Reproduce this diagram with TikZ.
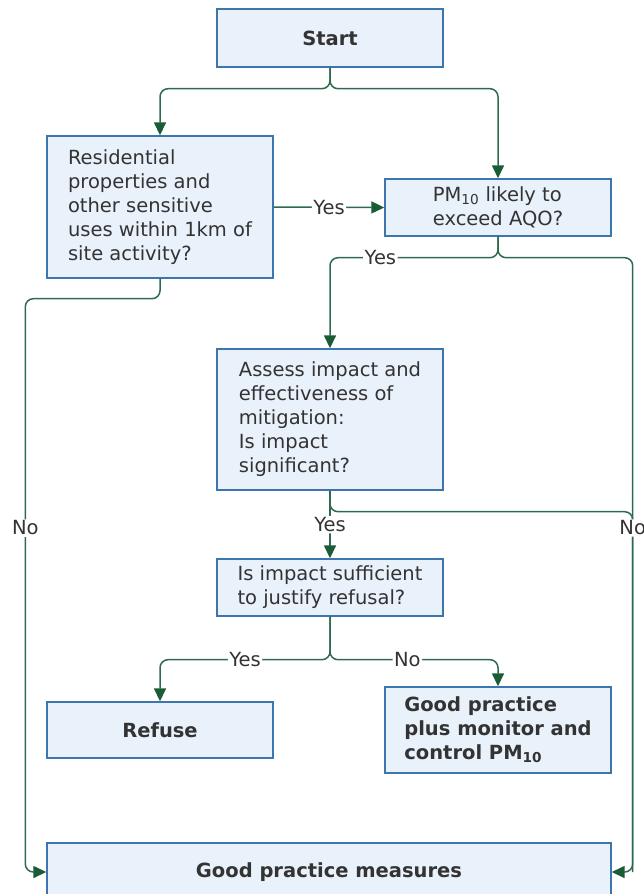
\documentclass[tikz,border=0pt]{standalone}
\usepackage{fontspec}
\setmainfont{DejaVu Sans}
\usetikzlibrary{arrows.meta}
\definecolor{boxfill}{HTML}{E9F1FB}
\definecolor{boxline}{HTML}{3D76AE}
\definecolor{link}{HTML}{2E6B4E}
\definecolor{tip}{HTML}{1A5C36}
\definecolor{txt}{HTML}{333333}
\tikzset{
  box/.style={draw=boxline, fill=boxfill, line width=1.4pt, text=txt, inner sep=0pt,
    minimum width=226pt, align=left, font=\fontsize{19.5}{24}\selectfont},
  boldbox/.style={box, font=\fontsize{19.5}{24}\selectfont\bfseries},
  lbl/.style={fill=white, inner sep=1.5pt, text=txt, font=\fontsize{19.5}{24}\selectfont},
  conn/.style={draw=link, line width=1.5pt, rounded corners=8pt},
  arr/.style={conn, -{Triangle[length=13pt,width=12pt,color=tip]}}
}
\begin{document}
\begin{tikzpicture}[x=1pt,y=-1pt]
    \useasboundingbox (0,0) rectangle (643,894);
    % ------ the boxes -----------------
    \node[boldbox, minimum height=58pt] (start) at (330,38) {Start};
    \node[box, minimum height=142pt] (resid) at (160,207) {Residential\\properties and\\other sensitive\\uses within 1km of\\site activity?};
    \node[box, minimum height=57pt] (pm) at (498,207.5) {PM\textsubscript{10} likely to\\exceed AQO?};
    \node[box, minimum height=141pt] (assess) at (330,419.5) {Assess impact and\\effectiveness of\\mitigation:\\Is impact\\significant?};
    \node[box, minimum height=57pt] (impact) at (330,587.5) {Is impact sufficient\\to justify refusal?};
    \node[boldbox, minimum height=56pt] (refuse) at (160,730) {Refuse};
    \node[boldbox, minimum height=86pt] (gpplus) at (498,730) {Good practice\\plus monitor and\\control PM\textsubscript{10}};
    \node[boldbox, minimum height=58pt, minimum width=564pt] (gpm) at (329,872) {Good practice measures};
    % ------ the links -----------------
    \draw[arr] (start.south) -- ++(0,21) -| (resid.north);
    \draw[arr] (start.south) -- ++(0,21) -| (pm.north);
    \draw[arr] (resid.east) -- node[lbl]{Yes} (pm.west);
    \draw[conn] (assess.south) -- ++(0,21) -| ([xshift=21pt]gpm.east);
    \draw[arr] (pm.south) -- ++(0,21) -| node[lbl,pos=.35]{Yes} (assess.north);
    \draw[arr] (pm.south) -- ++(0,21) -| node[lbl,pos=.72]{No} ([xshift=21pt]gpm.east) -- (gpm.east);
    \draw[arr] (resid.south) -- ++(0,20) -| node[lbl,pos=.70]{No} ([xshift=-21pt]gpm.west) -- (gpm.west);
    \draw[arr] (assess.south) -- node[lbl]{Yes} (impact.north);
    \draw[arr] (impact.south) -- ++(0,43) -| node[lbl,pos=.25]{Yes} (refuse.north);
    \draw[arr] (impact.south) -- ++(0,43) -| node[lbl,pos=.23]{No} (gpplus.north);
\end{tikzpicture}
\end{document}
